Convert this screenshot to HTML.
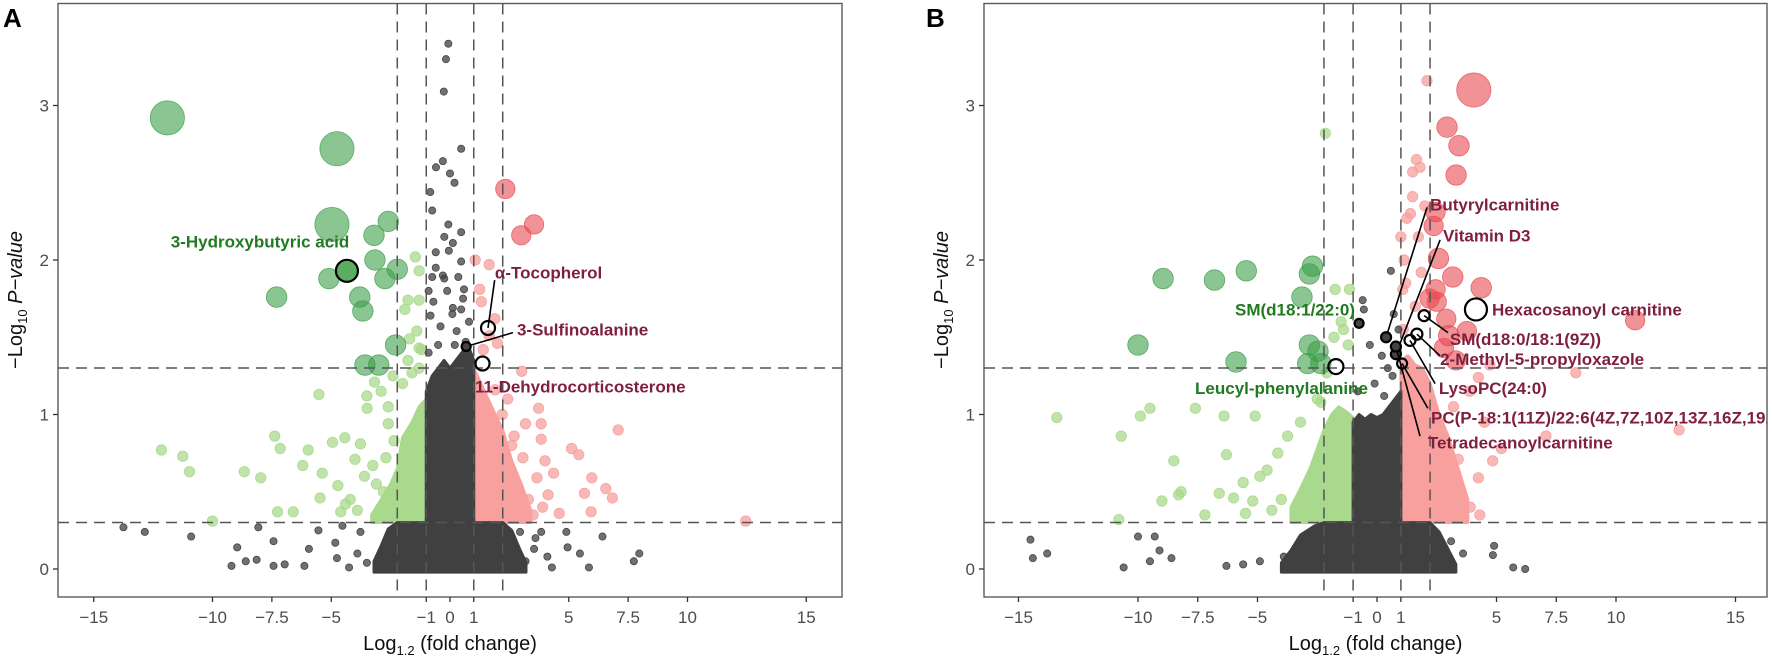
<!DOCTYPE html>
<html><head><meta charset="utf-8"><style>
body{margin:0;background:#fff}
svg{display:block;font-family:"Liberation Sans",Arial,sans-serif}
</style></head><body>
<svg id="chart" width="1772" height="659" viewBox="0 0 1772 659"></svg>
<script>
// ---------- shared axis data ----------
const xTicks = [-15,-10,-7.5,-5,-1,0,1,5,7.5,10,15];
const xTickLabels = ["\u221215","\u221210","\u22127.5","\u22125","\u22121","0","1","5","7.5","10","15"];
const yTicks = [0,1,2,3];
const fcThresholds = [-2.22,-1,1,2.22];
const pThresholds = [0.301,1.301];

// ---------- Panel A data ----------
const aGrayCoreX = [-1,-0.75,-0.5,-0.25,0,0.25,0.5,0.75,1];
const aGrayCoreTop = [1.15,1.25,1.3,1.35,1.3,1.35,1.4,1.45,1.35];
const aGrayBaseX = [-3.2,-2.9,-2.6,-2.22,-1,1,2.22,2.6,2.9,3.2];
const aGrayBaseTop = [0.05,0.15,0.26,0.3,0.3,0.3,0.3,0.25,0.14,0.04];
const aLightBandX = [-3.3,-2.9,-2.5,-2.22,-2.0,-1.6,-1.3,-1];
const aLightBandTop = [0.35,0.45,0.55,0.65,0.85,0.95,1.05,1.1];
const aPinkBandX = [1,1.3,1.6,1.9,2.22,2.6,3,3.4];
const aPinkBandTop = [1.3,1.2,1.1,1.0,0.9,0.7,0.55,0.38];
const aGrayX = [-0.07,-0.17,-0.26,0.47,-0.3,-0.59,0,0.19,-0.83,-0.75,-0.07,-0.24,0.47,0.12,-0.05,0.47,-0.6,-0.75,-0.24,0.35,0.59,-0.12,-0.7,0.12,0.47,-0.4,0.28,0.66,-0.82,-0.9,0.2,-0.5,-0.3,0.8,-0.6,0.1,-0.9,0.55,
  -13.75,-12.85,-10.9,-9.2,-8.96,-8.6,-8.14,-8.07,-7.43,-7.43,-6.96,-6.13,-5.94,-5.54,-4.83,-4.25,-4.76,-3.77,-4.53,-3.9,-3.5,
  4.9,4.95,5.47,4.29,5.85,6.42,7.74,7.97,3.84,3.54,3.18,2.95,3.6,4.1];
const aGrayY = [3.40,3.30,3.09,2.72,2.64,2.60,2.56,2.50,2.44,2.32,2.23,2.15,2.18,2.11,2.06,1.99,1.95,1.89,1.88,1.89,1.81,1.80,1.73,1.69,1.68,1.57,1.54,1.47,1.64,1.40,1.45,1.45,1.9,1.6,2.05,1.65,1.8,1.75,
  0.27,0.24,0.21,0.02,0.14,0.05,0.06,0.27,0.02,0.18,0.03,0.02,0.13,0.25,0.17,0.01,0.07,0.24,0.28,0.10,0.04,
  0.24,0.14,0.10,0.01,0.01,0.21,0.05,0.10,0.24,0.13,0.05,0.24,0.20,0.08];
const aLightX = [-12.15,-11.25,-10.97,-10,-8.66,-7.97,-7.38,-7.15,-7.26,-6.6,-5.52,-4.95,-5.97,-6.2,-5.38,-4.43,-4.72,-5.47,-4.6,-4,-3.77,-3.49,-3.25,-2.6,-2.6,-2.36,-1.46,-1.3,-1.77,-1.3,-1.9,-1.4,-1.7,-1.3,-1.77,-1.3,-3.18,-3.5,-2.9,-2.4,-2.0,-1.6,-1.2,-2.7,-3.1,-4.2,-3.6,-3.9,-4.4,-2.8];
const aLightY = [0.77,0.73,0.63,0.31,0.63,0.59,0.86,0.78,0.37,0.37,1.13,0.82,0.77,0.67,0.62,0.85,0.54,0.46,0.37,0.71,0.81,1.04,0.67,1.05,0.94,0.83,2.02,1.93,1.74,1.74,1.68,1.54,1.49,1.43,1.35,1.30,1.21,1.12,1.15,1.25,1.2,1.27,1.42,0.72,0.55,0.45,0.6,0.38,0.42,0.5];
const aPinkX = [1.06,1.65,1.25,1.32,1.89,1.65,2.0,1.4,3.02,3.73,3.18,3.84,3.84,7.08,5.12,5.42,3.07,4.36,5.97,6.56,6.84,5.66,4.13,5.94,12.45,3.66,3.3,3.5,2.7,2.43,1.9,2.2,2.6,4.0,3.9,4.6];
const aPinkY = [2.0,1.97,1.81,1.73,1.62,1.51,1.46,1.42,1.28,1.04,0.94,0.94,0.84,0.90,0.78,0.74,0.72,0.62,0.59,0.52,0.46,0.49,0.48,0.37,0.31,0.59,0.45,0.35,0.86,1.1,1.16,1.0,0.8,0.7,0.4,0.36];
const aDownX = [-11.9,-4.76,-4.97,-2.6,-3.2,-3.16,-5.1,-2.74,-2.22,-7.3,-3.8,-3.67,-2.29,-3.58,-3.0];
const aDownY = [2.92,2.72,2.23,2.25,2.16,2.0,1.88,1.88,1.94,1.76,1.76,1.67,1.45,1.32,1.32];
const aDownVip = [3,3,3,1.8,1.8,1.8,1.8,1.8,1.8,1.8,1.8,1.8,1.8,1.8,1.8];
const aUpX = [2.33,3.54,3.0];
const aUpY = [2.46,2.23,2.16];
const aUpVip = [1.7,1.7,1.7];

// ---------- Panel B data ----------
const bGrayCoreX = [-1,-0.75,-0.5,-0.25,0,0.25,0.5,0.75,1];
const bGrayCoreTop = [0.95,1.0,0.97,1.0,0.98,1.0,1.05,1.1,1.15];
const bGrayBaseX = [-4.0,-3.6,-3.2,-2.6,-2.22,-1,1,2.22,2.6,3,3.3];
const bGrayBaseTop = [0.04,0.12,0.22,0.28,0.3,0.3,0.3,0.3,0.24,0.12,0.03];
const bLightBandX = [-3.6,-3.2,-2.8,-2.5,-2.22,-1.9,-1.6,-1.3,-1];
const bLightBandTop = [0.4,0.52,0.65,0.78,0.9,1.0,1.05,1.02,0.98];
const bPinkBandX = [1,1.3,1.6,1.9,2.22,2.6,3,3.4,3.8];
const bPinkBandTop = [1.35,1.38,1.32,1.3,1.2,1.0,0.85,0.65,0.45];
const bGrayX = [-14.5,-14.4,-13.8,-10.6,-10,-9.3,-9.1,-8.6,-9.5,4.9,4.85,5.7,6.2,2.3,3.1,3.6,2.7,-4.9,-5.6,-6.3,-3.9,
  0.58,-0.6,-0.55,-0.3,0.2,0.9,0.45,-0.1,0.65,-0.8,0.3,0.7];
const bGrayY = [0.19,0.07,0.10,0.01,0.21,0.21,0.12,0.07,0.05,0.15,0.09,0.01,0.0,0.25,0.18,0.1,0.06,0.05,0.03,0.02,0.08,
  1.93,1.74,1.68,1.45,1.38,1.55,1.3,1.2,1.25,1.15,1.12,1.65];
const bLightX = [-2.16,-13.4,-10.7,-9.9,-9.5,-7.6,-6.4,-5.1,-8.5,-6.3,-9.0,-8.3,-8.2,-10.8,-6.6,-6.0,-5.2,-1.75,-1.15,-1.5,-2.1,-2.35,-3.74,-4.15,-4.6,-5.6,-1.4,-1.8,-1.2,-2.5,-3.2,-4.9,-5.5,-7.2,-4.0,-4.4];
const bLightY = [2.82,0.98,0.86,0.99,1.04,1.04,0.99,0.99,0.70,0.74,0.44,0.48,0.50,0.32,0.49,0.46,0.44,1.81,1.81,1.60,1.27,1.08,0.86,0.75,0.64,0.56,1.55,1.5,1.45,1.1,0.95,0.6,0.36,0.35,0.45,0.38];
const bPinkX = [2.09,1.65,1.8,1.49,1.49,1.25,1.0,1.73,1.13,1.85,1.08,8.32,12.64,7.07,4.84,4.24,3.53,3.4,2.8,4.24,4.72,3.88,5.2,1.4,1.2,1.6,2.0,1.1,3.2,4.5,2.6,3.9,4.3];
const bPinkY = [3.16,2.65,2.60,2.57,2.41,2.27,2.15,2.15,2.0,1.92,1.81,1.27,0.90,0.86,0.70,0.59,0.48,0.71,0.83,1.24,1.32,1.15,0.78,2.3,1.85,1.7,2.35,1.55,1.05,0.95,0.55,0.4,0.35];
const bDownX = [-8.95,-6.8,-5.47,-10.0,-5.9,-2.7,-2.83,-3.14,-2.83,-2.47,-2.9,-2.35];
const bDownY = [1.88,1.87,1.93,1.45,1.34,1.96,1.91,1.76,1.45,1.41,1.33,1.33];
const bDownVip = [1.8,1.8,1.8,1.8,1.8,1.8,1.8,1.8,1.8,1.8,1.8,1.8];
const bUpX = [4.05,2.93,3.43,3.31,2.45,2.37,2.57,3.17,4.36,2.45,2.5,10.8,3.0,3.76,2.8,3.3,2.2,2.9];
const bUpY = [3.10,2.86,2.74,2.55,2.31,2.22,2.01,1.89,1.82,1.81,1.73,1.61,1.51,1.54,1.43,1.35,1.75,1.62];
const bUpVip = [3,1.8,1.8,1.8,1.7,1.7,1.8,1.8,1.8,1.7,1.7,1.7,1.8,1.7,1.7,1.7,1.7,1.7];

// ---------- labels ----------
const aLabels = ["3-Hydroxybutyric acid","\u03b1-Tocopherol","3-Sulfinoalanine","11-Dehydrocorticosterone"];
const aLabelX = [-8.0,1.89,2.82,1.05];
const aLabelY = [2.12,1.92,1.55,1.18];
const aLabelAnchor = ["middle","start","start","start"];
const aLabelColor = ["g","r","r","r"];
const aPtX = [-4.34,1.6,0.68,1.37];
const aPtY = [1.93,1.56,1.44,1.33];
const aPtR = [11,7,4.5,7];
const aPtFill = ["g","none","k","none"];
const aLineX = [null,1.88,2.65,null];
const aLineY = [null,1.87,1.53,null];

const bLabels = ["Butyrylcarnitine","Vitamin D3","Hexacosanoyl carnitine","SM(d18:0/18:1(9Z))","2-Methyl-5-propyloxazole","LysoPC(24:0)","PC(P-18:1(11Z)/22:6(4Z,7Z,10Z,13Z,16Z,19Z))","Tetradecanoylcarnitine","SM(d18:1/22:0)","Leucyl-phenylalanine"];
const bLabelX = [2.22,2.76,4.81,3.05,2.64,2.59,2.26,2.13,-0.92,-0.38];
const bLabelY = [2.36,2.16,1.68,1.49,1.36,1.17,0.98,0.82,1.68,1.17];
const bLabelAnchor = ["start","start","start","start","start","start","start","start","end","end"];
const bLabelColor = ["r","r","r","r","r","r","r","r","g","g"];
const bPtX = [0.38,0.79,4.14,1.97,1.67,1.38,1.05,0.79,-0.75,-1.72];
const bPtY = [1.50,1.39,1.68,1.64,1.52,1.48,1.33,1.44,1.59,1.31];
const bPtR = [5,5,11,5.5,5.5,5.5,5,5,4.5,7.5];
const bPtFill = ["k","k","none","none","none","none","none","k","k","none"];
const bLineX = [2.09,2.64,null,2.97,2.64,2.43,2.13,1.8,null,null];
const bLineY = [2.34,2.13,null,1.53,1.38,1.20,1.04,0.86,null,null];

// ---------- drawing ----------
const NS = "http://www.w3.org/2000/svg";
const svg = document.getElementById("chart");
const COL = {gray:"#404040", light:"#a9d98c", pink:"#f7a09e", down:"#3c9e4a", up:"#e84a50", g:"#207a20", r:"#7e1f3e"};
function mk(tag, attrs, parent){
  const e = document.createElementNS(NS, tag);
  for (const k in attrs) e.setAttribute(k, attrs[k]);
  (parent||svg).appendChild(e);
  return e;
}
const TOP = 3.5, BOTTOM = 597;
function Y(v){ return 569 - v*154.5; }

function panel(p){
  const X = v => p.x0 + v*p.unit;
  const g = mk("g", {});
  
  
  const clipId = "clip-"+p.name;
  const cp = mk("clipPath", {id:clipId}, g);
  mk("rect", {x:p.left, y:TOP, width:p.right-p.left, height:BOTTOM-TOP}, cp);
  const plot = mk("g", {"clip-path":"url(#"+clipId+")"}, g);
  
  

  function band(xs, tops, bottom, color, name){
    let d = "M" + X(xs[0]) + "," + Y(bottom);
    for (let i=0;i<xs.length;i++) d += " L" + X(xs[i]) + "," + Y(tops[i]);
    d += " L" + X(xs[xs.length-1]) + "," + Y(bottom) + " Z";
    const e = mk("path", {d:d, fill:color, stroke:color, "stroke-width":3, "stroke-linejoin":"round"}, plot);
    
    
  }
  function dots(xs, ys, r, color, op, name, vip){
    for (let i=0;i<xs.length;i++){
      const rr = vip ? vip[i]*5.7 : r;
      const c = mk("circle", {cx:X(xs[i]), cy:Y(ys[i]), r:rr, fill:color, "fill-opacity":op, stroke:color, "stroke-opacity":Math.min(1,op+0.2), "stroke-width":0.8}, plot);
      
      
    }
  }
  band(p.lightBandX, p.lightBandTop, 0.301, COL.light, "nonsig-down-cloud");
  band(p.pinkBandX, p.pinkBandTop, 0.301, COL.pink, "nonsig-up-cloud");
  dots(p.lightX, p.lightY, 5.2, COL.light, 0.75, "nonsig-down-point");
  dots(p.pinkX, p.pinkY, 5.2, COL.pink, 0.75, "nonsig-up-point");
  band(p.grayBaseX, p.grayBaseTop, -0.02, COL.gray, "unchanged-base-cloud");
  band(p.grayCoreX, p.grayCoreTop, 0.2, COL.gray, "unchanged-core-cloud");
  dots(p.grayX, p.grayY, 3.6, COL.gray, 0.75, "unchanged-point");
  dots(p.downX, p.downY, 0, COL.down, 0.6, "sig-down-point", p.downVip);
  dots(p.upX, p.upY, 0, COL.up, 0.6, "sig-up-point", p.upVip);

  fcThresholds.forEach(t=>{
    const l = mk("line", {x1:X(t), x2:X(t), y1:TOP, y2:BOTTOM, stroke:"#555", "stroke-width":1.5, "stroke-dasharray":"11,7"}, plot);
    
    
  });
  pThresholds.forEach(t=>{
    const l = mk("line", {x1:p.left, x2:p.right, y1:Y(t), y2:Y(t), stroke:"#555", "stroke-width":1.5, "stroke-dasharray":"11,7"}, plot);
    
    
  });

  for (let i=0;i<p.labels.length;i++){
    if (p.lineX[i] !== null){
      const l = mk("line", {x1:X(p.ptX[i]), y1:Y(p.ptY[i]), x2:X(p.lineX[i]), y2:Y(p.lineY[i]), stroke:"#000", "stroke-width":1.6}, plot);
      
      
    }
    const f = p.ptFill[i];
    const c = mk("circle", {cx:X(p.ptX[i]), cy:Y(p.ptY[i]), r:p.ptR[i], fill: f==="g"?"#5aae63": (f==="k"?"#444":"none"), stroke:"#000", "stroke-width":2.2}, plot);
    
    
  }
  for (let i=0;i<p.labels.length;i++){
    const t = mk("text", {x:X(p.labelX[i]), y:Y(p.labelY[i])+6, "text-anchor":p.labelAnchor[i], "font-size":17, "font-weight":"bold", fill:COL[p.labelColor[i]]}, plot);
    t.textContent = p.labels[i];
    
    
  }

  const fr = mk("rect", {x:p.left, y:TOP, width:p.right-p.left, height:BOTTOM-TOP, fill:"none", stroke:"#5a5a5a", "stroke-width":1.4}, g);
  
  

  xTicks.forEach((t,i)=>{
    const tk = mk("line", {x1:X(t), x2:X(t), y1:BOTTOM, y2:BOTTOM+5, stroke:"#333", "stroke-width":1.3}, g);
    
    
    const tl = mk("text", {x:X(t), y:623, "text-anchor":"middle", "font-size":17, fill:"#4d4d4d"}, g);
    tl.textContent = xTickLabels[i];
    
    
  });
  yTicks.forEach(t=>{
    const tk = mk("line", {x1:p.left-5, x2:p.left, y1:Y(t), y2:Y(t), stroke:"#333", "stroke-width":1.3}, g);
    
    
    const tl = mk("text", {x:p.left-9, y:Y(t)+6, "text-anchor":"end", "font-size":17, fill:"#4d4d4d"}, g);
    tl.textContent = String(t);
    
    
  });

  const xt = mk("text", {x:(p.left+p.right)/2, y:650, "text-anchor":"middle", "font-size":20, fill:"#111"}, g);
  xt.innerHTML = 'Log<tspan font-size="13" dy="5">1.2</tspan><tspan dy="-5"> (fold change)</tspan>';
  
  
  const yt = mk("text", {x:0, y:0, "text-anchor":"middle", "font-size":20, fill:"#111", transform:"translate("+(p.left-36)+",300) rotate(-90)"}, g);
  yt.innerHTML = '\u2212Log<tspan font-size="13" dy="5">10</tspan><tspan dy="-5"> </tspan><tspan font-style="italic">P\u2212value</tspan>';
  
  

  const pl = mk("text", {x:p.letterX, y:27, "font-size":26, "font-weight":"bold", fill:"#000"}, g);
  pl.textContent = p.letter;
  
  
}

panel({name:"panel-a", letter:"A", letterX:3, x0:450, unit:23.75, left:58, right:842,
  grayCoreX:aGrayCoreX, grayCoreTop:aGrayCoreTop, grayBaseX:aGrayBaseX, grayBaseTop:aGrayBaseTop,
  lightBandX:aLightBandX, lightBandTop:aLightBandTop, pinkBandX:aPinkBandX, pinkBandTop:aPinkBandTop,
  grayX:aGrayX, grayY:aGrayY, lightX:aLightX, lightY:aLightY, pinkX:aPinkX, pinkY:aPinkY,
  downX:aDownX, downY:aDownY, downVip:aDownVip, upX:aUpX, upY:aUpY, upVip:aUpVip,
  labels:aLabels, labelX:aLabelX, labelY:aLabelY, labelAnchor:aLabelAnchor, labelColor:aLabelColor,
  ptX:aPtX, ptY:aPtY, ptR:aPtR, ptFill:aPtFill, lineX:aLineX, lineY:aLineY});

panel({name:"panel-b", letter:"B", letterX:926, x0:1377, unit:23.9, left:984, right:1767,
  grayCoreX:bGrayCoreX, grayCoreTop:bGrayCoreTop, grayBaseX:bGrayBaseX, grayBaseTop:bGrayBaseTop,
  lightBandX:bLightBandX, lightBandTop:bLightBandTop, pinkBandX:bPinkBandX, pinkBandTop:bPinkBandTop,
  grayX:bGrayX, grayY:bGrayY, lightX:bLightX, lightY:bLightY, pinkX:bPinkX, pinkY:bPinkY,
  downX:bDownX, downY:bDownY, downVip:bDownVip, upX:bUpX, upY:bUpY, upVip:bUpVip,
  labels:bLabels, labelX:bLabelX, labelY:bLabelY, labelAnchor:bLabelAnchor, labelColor:bLabelColor,
  ptX:bPtX, ptY:bPtY, ptR:bPtR, ptFill:bPtFill, lineX:bLineX, lineY:bLineY});
</script>
</body></html>
